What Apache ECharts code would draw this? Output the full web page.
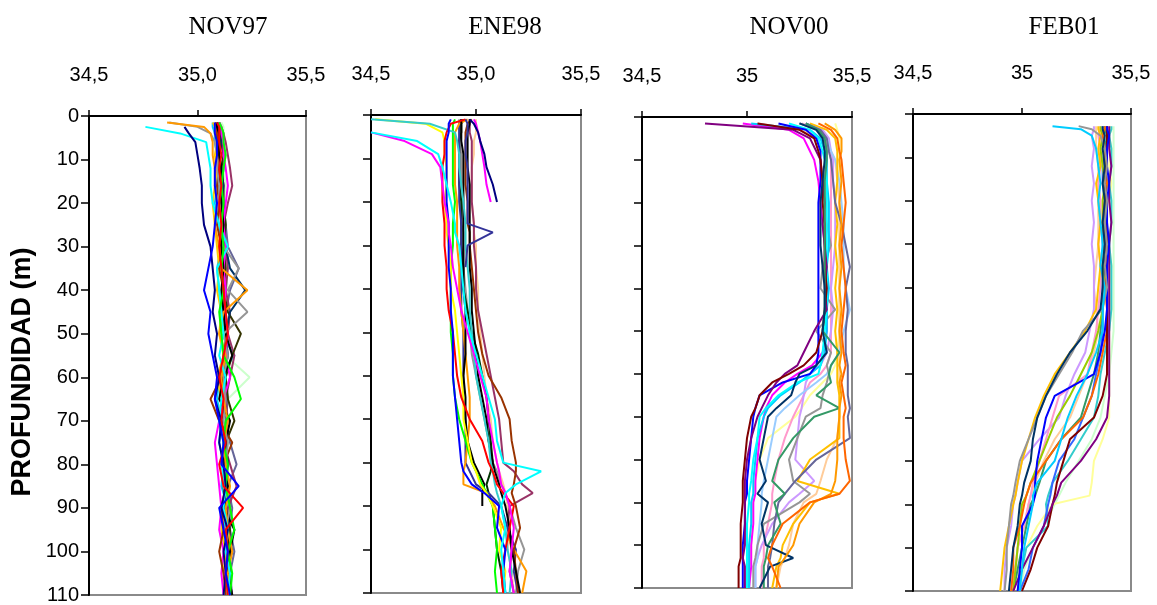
<!DOCTYPE html>
<html><head><meta charset="utf-8">
<script src="https://cdn.jsdelivr.net/npm/echarts@6/dist/echarts.min.js"></script>
<style>html,body{margin:0;padding:0;background:#fff}#c{width:1157px;height:605px}</style>
</head><body><div id="c"></div>
<script>
// ---------- tick labels ----------
const xTickValues = [34.5, 35.0, 35.5];
const xTickLabelsComma = ['34,5', '35,0', '35,5'];
const xTickLabelsShort = ['34,5', '35', '35,5'];
const depthTickValues = [0, 10, 20, 30, 40, 50, 60, 70, 80, 90, 100, 110];
const panelTitles = ['NOV97', 'ENE98', 'NOV00', 'FEB01'];
const depthAxisName = 'PROFUNDIDAD (m)';

// ---------- NOV97 (depth m / salinity) ----------
const depthNOV97 = [1.5, 2.5, 4, 6, 9, 12, 16, 20, 25, 30, 35, 40, 45, 50, 55, 60, 65, 70, 75, 80, 85, 90, 95, 100, 105, 110];
const nov97_navy = [null, 34.94, 34.96, 34.99, 35.00, 35.01, 35.02, 35.02, 35.03, 35.06, 35.07, 35.08, 35.07, 35.09, 35.08, 35.10, 35.08, 35.11, 35.10, 35.12, 35.13, 35.11, 35.14, 35.12, 35.13, 35.12];
const nov97_cyan = [null, 34.76, 34.92, 35.04, 35.05, 35.06, 35.06, 35.07, 35.10, 35.14, 35.09, 35.10, 35.11, 35.12, 35.10, 35.13, 35.11, 35.10, 35.12, 35.11, 35.13, 35.12, 35.14, 35.13, 35.15, 35.14];
const nov97_orange = [34.86, 35.03, 35.06, 35.07, 35.07, 35.08, 35.08, 35.09, 35.08, 35.10, 35.11, 35.23, 35.12, 35.10, 35.13, 35.11, 35.12, 35.14, 35.12, 35.13, 35.15, 35.13, 35.14, 35.16, 35.14, 35.15];
const nov97_gray = [34.87, 35.00, 35.06, 35.08, 35.09, 35.09, 35.10, 35.10, 35.11, 35.12, 35.19, 35.14, 35.23, 35.12, 35.14, 35.12, 35.13, 35.12, 35.14, 35.13, 35.12, 35.15, 35.13, 35.14, 35.13, 35.14];
const nov97_blue = [35.08, 35.08, 35.08, 35.09, 35.09, 35.08, 35.08, 35.09, 35.08, 35.07, 35.05, 35.03, 35.06, 35.05, 35.07, 35.09, 35.08, 35.10, 35.12, 35.11, 35.19, 35.10, 35.12, 35.14, 35.13, 35.15];
const nov97_red = [35.09, 35.10, 35.10, 35.10, 35.11, 35.10, 35.11, 35.10, 35.11, 35.10, 35.11, 35.12, 35.13, 35.14, 35.12, 35.10, 35.12, 35.11, 35.13, 35.10, 35.12, 35.21, 35.13, 35.14, 35.13, 35.14];
const nov97_green = [35.10, 35.11, 35.12, 35.12, 35.13, 35.12, 35.11, 35.12, 35.11, 35.12, 35.11, 35.12, 35.10, 35.11, 35.12, 35.17, 35.20, 35.13, 35.12, 35.14, 35.13, 35.15, 35.17, 35.14, 35.16, 35.15];
const nov97_black = [35.09, 35.09, 35.10, 35.10, 35.10, 35.11, 35.10, 35.11, 35.12, 35.11, 35.12, 35.11, 35.12, 35.13, 35.16, 35.12, 35.10, 35.15, 35.13, 35.12, 35.14, 35.12, 35.17, 35.15, 35.14, 35.16];
const nov97_brown = [35.08, 35.09, 35.09, 35.09, 35.10, 35.10, 35.09, 35.10, 35.09, 35.11, 35.10, 35.12, 35.11, 35.13, 35.12, 35.11, 35.06, 35.10, 35.16, 35.12, 35.13, 35.11, 35.12, 35.10, 35.12, 35.13];
const nov97_magenta = [35.10, 35.11, 35.11, 35.12, 35.12, 35.13, 35.14, 35.13, 35.12, 35.13, 35.12, 35.13, 35.12, 35.14, 35.13, 35.15, 35.12, 35.10, 35.08, 35.09, 35.10, 35.11, 35.10, 35.12, 35.11, 35.12];
const nov97_plum = [35.10, 35.11, 35.12, 35.13, 35.14, 35.15, 35.16, 35.14, 35.12, 35.13, 35.14, 35.13, 35.15, 35.14, 35.17, 35.15, 35.13, 35.14, 35.12, 35.15, 35.18, 35.14, 35.13, 35.15, 35.14, 35.16];
const nov97_darkteal = [35.09, 35.10, 35.10, 35.11, 35.10, 35.11, 35.12, 35.11, 35.12, 35.13, 35.15, 35.22, 35.15, 35.13, 35.14, 35.12, 35.13, 35.11, 35.13, 35.14, 35.13, 35.15, 35.14, 35.16, 35.13, 35.15];
const nov97_olive = [35.10, 35.10, 35.11, 35.11, 35.12, 35.11, 35.12, 35.12, 35.13, 35.12, 35.13, 35.12, 35.14, 35.20, 35.16, 35.13, 35.14, 35.17, 35.13, 35.14, 35.12, 35.13, 35.15, 35.14, 35.15, 35.14];
const nov97_lightgreen = [35.11, 35.12, 35.12, 35.12, 35.13, 35.12, 35.13, 35.12, 35.13, 35.12, 35.13, 35.14, 35.13, 35.14, 35.13, 35.24, 35.14, 35.13, 35.14, 35.13, 35.15, 35.14, 35.15, 35.14, 35.16, 35.15];
const nov97_gold = [35.07, 35.08, 35.08, 35.09, 35.08, 35.09, 35.08, 35.07, 35.08, 35.09, 35.10, 35.09, 35.11, 35.10, 35.12, 35.09, 35.11, 35.10, 35.12, 35.11, 35.13, 35.12, 35.11, 35.13, 35.12, 35.14];
const nov97_skyblue = [35.07, 35.07, 35.08, 35.08, 35.09, 35.08, 35.09, 35.08, 35.10, 35.11, 35.09, 35.10, 35.12, 35.11, 35.17, 35.10, 35.09, 35.11, 35.10, 35.12, 35.11, 35.14, 35.12, 35.13, 35.14, 35.13];
const nov97_slate = [35.10, 35.10, 35.11, 35.11, 35.12, 35.12, 35.11, 35.12, 35.13, 35.14, 35.19, 35.15, 35.13, 35.14, 35.12, 35.13, 35.14, 35.13, 35.15, 35.18, 35.14, 35.16, 35.15, 35.17, 35.15, 35.16];

// ---------- ENE98 ----------
const depthENE98 = [1, 2, 4, 6, 9, 12, 16, 20, 25, 27, 30, 35, 40, 45, 50, 55, 60, 65, 70, 75, 80, 82, 85, 87, 90, 95, 100, 105, 110];
const ene98_teal = [34.50, 34.78, 34.90, 34.91, 34.92, 34.92, 34.93, 34.94, 34.95, 34.95, 34.95, 34.96, 34.97, 34.97, 34.98, 34.99, 35.00, 35.02, 35.04, 35.06, 35.07, 35.08, 35.09, 35.10, 35.12, 35.14, 35.15, 35.17, 35.16];
const ene98_yellow = [34.52, 34.76, 34.84, 34.85, 34.85, 34.86, 34.86, 34.85, 34.86, 34.86, 34.87, 34.88, 34.88, 34.90, 34.91, 34.92, 34.93, 34.94, 34.94, 34.96, 34.98, 35.00, 35.02, 35.05, 35.08, 35.12, 35.11, 35.14, 35.13];
const ene98_cyan = [null, null, 34.50, 34.72, 34.82, 34.84, 34.86, 34.88, 34.90, 34.90, 34.92, 34.93, 34.94, 34.95, 34.97, 35.00, 35.03, 35.06, 35.09, 35.10, 35.13, 35.31, 35.19, 35.14, 35.12, 35.14, 35.12, 35.13, 35.14];
const ene98_magenta = [null, null, 34.50, 34.66, 34.79, 34.83, 34.84, 34.85, 34.87, 34.87, 34.88, 34.89, 34.91, 34.93, 34.96, 34.99, 35.02, 35.05, 35.06, 35.08, 35.10, 35.11, 35.12, 35.14, 35.16, 35.18, 35.17, 35.16, 35.18];
const ene98_magenta2 = [34.99, 35.00, 35.01, 35.02, 35.03, 35.04, 35.05, 35.07];
const ene98_navy = [34.97, 34.99, 35.01, 35.02, 35.04, 35.05, 35.08, 35.10];
const ene98_indigo = [34.95, 34.96, 34.96, 34.95, 34.95, 34.96, 34.96, 34.96, 34.96, 35.08, 34.96, 34.95];
const ene98_indigo2 = [34.93, 34.92, 34.92, 34.92, 34.92, 34.92, 34.92, 34.92, 34.93, 34.93, 34.93, 34.93, 34.93, 34.93, 34.94, 34.94, 34.94, 34.94, 34.95, 34.95, 34.95, 34.97, 35.00, 35.06, 35.12, 35.15, 35.19, 35.18, 35.20];
const ene98_red = [34.95, 34.88, 34.86, 34.85, 34.85, 34.84, 34.84, 34.84, 34.85, 34.85, 34.85, 34.86, 34.86, 34.87, 34.89, 34.90, 34.91, 34.93, 34.97, 35.03, 35.06, 35.08, 35.10, 35.13, 35.18, 35.16, 35.14, 35.12, 35.13];
const ene98_blue = [34.88, 34.87, 34.87, 34.86, 34.86, 34.86, 34.86, 34.86, 34.87, 34.87, 34.87, 34.87, 34.88, 34.88, 34.89, 34.89, 34.89, 34.90, 34.91, 34.92, 34.93, 34.94, 34.98, 35.04, 35.11, 35.10, 35.14, 35.13, 35.14];
const ene98_green = [34.90, 34.89, 34.89, 34.89, 34.89, 34.89, 34.89, 34.90, 34.89, 34.89, 34.89, 34.88, 34.88, 34.88, 34.88, 34.89, 34.89, 34.90, 34.92, 34.95, 34.98, 35.00, 35.03, 35.05, 35.08, 35.09, 35.10, 35.09, 35.10];
const ene98_black = [34.93, 34.93, 34.93, 34.93, 34.94, 34.94, 34.94, 34.94, 34.94, 34.94, 34.94, 34.94, 34.94, 34.95, 34.95, 34.95, 34.94, 34.95, 34.95, 34.96, 34.99, 35.01, 35.04, 35.03, 35.03];
const ene98_black2 = [34.97, 34.97, 34.96, 34.96, 34.96, 34.96, 34.97, 34.97, 34.97, 34.97, 34.97, 34.97, 34.98, 34.98, 34.99, 35.00, 35.01, 35.03, 35.05, 35.06, 35.08, 35.09, 35.11, 35.12, 35.14, 35.16, 35.17, 35.19, 35.21];
const ene98_brown = [34.98, 34.96, 34.95, 34.95, 34.95, 34.95, 34.95, 34.96, 34.96, 34.97, 34.97, 34.98, 34.99, 35.00, 35.01, 35.03, 35.06, 35.12, 35.16, 35.17, 35.19, 35.19, 35.18, 35.17, 35.19, 35.21, 35.18, 35.19, 35.20];
const ene98_orange = [34.96, 34.92, 34.90, 34.90, 34.90, 34.90, 34.90, 34.91, 34.91, 34.91, 34.91, 34.92, 34.92, 34.93, 34.94, 34.95, 34.96, 34.97, 34.97, 34.96, 34.95, 34.94, 34.94, 35.05, 35.09, 35.13, 35.18, 35.24, 35.22];
const ene98_darkgreen = [34.94, 34.93, 34.93, 34.92, 34.92, 34.92, 34.92, 34.93, 34.93, 34.93, 34.93, 34.94, 34.94, 34.96, 34.98, 35.01, 35.03, 35.05, 35.06, 35.07, 35.08, 35.07, 35.05, 35.06, 35.08, 35.09, 35.10, 35.12, 35.13];
const ene98_plum = [34.97, 34.97, 34.97, 34.98, 34.98, 34.98, 34.98, 34.98, 34.99, 34.99, 34.99, 35.00, 35.00, 35.01, 35.03, 35.05, 35.07, 35.09, 35.11, 35.12, 35.13, 35.18, 35.22, 35.27, 35.16, 35.15, 35.17, 35.16, 35.18];
const ene98_peach = [35.00, 35.00, 35.00, 34.99, 34.99, 34.98, 34.98, 34.98, 34.99, 34.99, 35.00, 35.00, 35.01, 35.01, 35.02, 35.03, 35.04, 35.05, 35.07, 35.08, 35.10, 35.11, 35.13, 35.14, 35.15, 35.16, 35.15, 35.17, 35.18];
const ene98_gray = [34.92, 34.92, 34.92, 34.92, 34.93, 34.93, 34.93, 34.93, 34.93, 34.94, 34.94, 34.94, 34.95, 34.96, 34.97, 34.98, 35.00, 35.02, 35.04, 35.06, 35.08, 35.10, 35.12, 35.14, 35.16, 35.19, 35.23, 35.20, 35.19];

// ---------- NOV00 ----------
const depthNOV00 = [1.5, 3, 5, 8, 10, 15, 20, 25, 30, 35, 40, 45, 50, 55, 58, 60, 62, 65, 68, 70, 75, 80, 85, 88, 90, 95, 100, 103, 105, 110];
const nov00_purple = [34.80, 35.22, 35.30, 35.33, 35.35, 35.36, 35.37, 35.36, 35.37, 35.38, 35.37, 35.38, 35.32, 35.27, 35.24, 35.18, 35.14, 35.10, 35.07, 35.05, 35.02, 35.00, 34.99, 34.99, 34.99, 34.99, 34.99, 34.98, 34.99, 34.99];
const nov00_maroon = [35.05, 35.25, 35.32, 35.34, 35.35, 35.36, 35.36, 35.37, 35.37, 35.37, 35.38, 35.37, 35.36, 35.33, 35.27, 35.20, 35.12, 35.06, 35.04, 35.02, 35.00, 34.99, 34.98, 34.98, 34.98, 34.97, 34.97, 34.97, 34.96, 34.96];
const nov00_magenta = [34.98, 35.20, 35.27, 35.30, 35.32, 35.34, 35.35, 35.36, 35.37, 35.37, 35.38, 35.38, 35.38, 35.36, 35.31, 35.24, 35.18, 35.12, 35.09, 35.08, 35.06, 35.05, 35.04, 35.04, 35.03, 35.03, 35.02, 35.02, 35.02, 35.01];
const nov00_blue = [35.15, 35.28, 35.33, 35.35, 35.35, 35.35, 35.34, 35.34, 35.34, 35.34, 35.34, 35.34, 35.34, 35.34, 35.33, 35.30, 35.17, 35.06, 35.04, 35.03, 35.02, 35.01, 35.00, 35.00, 34.99, 34.99, 34.98, 34.98, 34.98, 34.98];
const nov00_cyan = [35.20, 35.30, 35.34, 35.36, 35.37, 35.38, 35.38, 35.38, 35.38, 35.38, 35.38, 35.38, 35.37, 35.36, 35.35, 35.34, 35.24, 35.15, 35.09, 35.06, 35.05, 35.03, 35.02, 35.01, 35.01, 35.00, 35.00, 35.00, 35.00, 35.00];
const nov00_skyblue = [35.02, 35.30, 35.35, 35.37, 35.38, 35.38, 35.39, 35.39, 35.39, 35.38, 35.39, 35.38, 35.38, 35.37, 35.35, 35.30, 35.25, 35.16, 35.10, 35.08, 35.05, 35.04, 35.03, 35.03, 35.02, 35.02, 35.01, 35.01, 35.01, 35.01];
const nov00_paleblue = [35.25, 35.33, 35.38, 35.40, 35.42, 35.44, 35.45, 35.46, 35.46, 35.46, 35.47, 35.49, 35.46, 35.44, 35.40, 35.38, 35.33, 35.25, 35.18, 35.14, 35.12, 35.10, 35.08, 35.07, 35.07, 35.06, 35.05, 35.05, 35.04, 35.04];
const nov00_navy = [35.25, 35.33, 35.36, 35.37, 35.37, 35.36, 35.35, 35.35, 35.35, 35.36, 35.37, 35.37, 35.36, 35.38, 35.33, 35.25, 35.23, 35.21, 35.14, 35.10, 35.08, 35.06, 35.09, 35.05, 35.10, 35.07, 35.09, 35.22, 35.11, 35.06];
const nov00_seagreen = [35.28, 35.34, 35.37, 35.38, 35.38, 35.37, 35.37, 35.37, 35.37, 35.37, 35.37, 35.37, 35.36, 35.44, 35.40, 35.39, 35.40, 35.33, 35.44, 35.32, 35.22, 35.15, 35.12, 35.18, 35.13, 35.16, 35.10, 35.09, 35.08, 35.08];
const nov00_orange = [35.34, 35.40, 35.43, 35.44, 35.45, 35.46, 35.47, 35.46, 35.45, 35.46, 35.47, 35.46, 35.45, 35.46, 35.47, 35.46, 35.45, 35.46, 35.47, 35.46, 35.46, 35.47, 35.49, 35.44, 35.30, 35.17, 35.12, 35.10, 35.12, 35.16];
const nov00_orange2 = [35.37, 35.42, 35.45, 35.45, 35.44, 35.45, 35.44, 35.45, 35.44, 35.45, 35.44, 35.45, 35.44, 35.45, 35.44, 35.45, 35.44, 35.45, 35.44, 35.44, 35.43, 35.43, 35.42, 35.40, 35.32, 35.25, 35.22, 35.18, 35.15, 35.14];
const nov00_gold = [35.30, 35.38, 35.42, 35.43, 35.43, 35.43, 35.42, 35.43, 35.42, 35.43, 35.42, 35.43, 35.42, 35.43, 35.43, 35.43, 35.43, 35.44, 35.44, 35.44, 35.44, 35.30, 35.24, 35.44, 35.30, 35.22, 35.17, 35.16, 35.14, 35.12];
const nov00_gray = [35.25, 35.34, 35.37, 35.38, 35.38, 35.37, 35.37, 35.38, 35.40, 35.36, 35.35, 35.42, 35.33, 35.40, 35.38, 35.39, 35.38, 35.36, 35.35, 35.28, 35.24, 35.20, 35.22, 35.30, 35.25, 35.08, 35.05, 35.04, 35.03, 35.03];
const nov00_slate = [35.28, 35.35, 35.38, 35.39, 35.40, 35.41, 35.42, 35.45, 35.47, 35.49, 35.47, 35.48, 35.47, 35.47, 35.48, 35.48, 35.48, 35.48, 35.49, 35.48, 35.49, 35.33, 35.23, 35.18, 35.15, 35.13, 35.12, 35.11, 35.10, 35.10];
const nov00_peach = [35.05, 35.25, 35.36, 35.40, 35.42, 35.43, 35.44, 35.44, 35.44, 35.44, 35.44, 35.44, 35.44, 35.44, 35.44, 35.44, 35.44, 35.44, 35.44, 35.44, 35.43, 35.38, 35.35, 35.33, 35.27, 35.22, 35.20, 35.18, 35.16, 35.14];
const nov00_pink = [35.26, 35.35, 35.38, 35.39, 35.40, 35.40, 35.40, 35.40, 35.40, 35.40, 35.40, 35.40, 35.40, 35.40, 35.38, 35.35, 35.30, 35.27, 35.24, 35.22, 35.18, 35.15, 35.13, 35.12, 35.12, 35.10, 35.08, 35.08, 35.07, 35.07];
const nov00_lavender = [35.28, 35.36, 35.39, 35.40, 35.41, 35.41, 35.42, 35.42, 35.42, 35.41, 35.40, 35.41, 35.40, 35.38, 35.35, 35.30, 35.28, 35.27, 35.26, 35.25, 35.24, 35.23, 35.32, 35.25, 35.20, 35.12, 35.07, 35.05, 35.04, 35.04];
const nov00_lightyellow = [35.42, 35.43, 35.44, 35.44, 35.44, 35.44, 35.44, 35.44, 35.44, 35.44, 35.44, 35.44, 35.44, 35.43, 35.42, 35.40, 35.36, 35.30, 35.26, 35.23, 35.10, 35.06, 35.04, 35.03, 35.03, 35.02, 35.02, 35.02, 35.01, 35.01];

// ---------- FEB01 ----------
const depthFEB01 = [2.8, 3.5, 5, 8, 12, 16, 20, 25, 30, 35, 40, 45, 50, 55, 60, 65, 70, 75, 80, 85, 88, 90, 95, 100, 105, 110];
const feb01_cyan = [35.14, 35.27, 35.32, 35.34, 35.35, 35.36, 35.35, 35.36, 35.37, 35.36, 35.38, 35.37, 35.37, 35.34, 35.30, 35.25, 35.21, 35.18, 35.15, 35.07, 35.05, 35.05, 35.03, 35.01, 35.00, 34.99];
const feb01_gray = [35.26, 35.32, 35.36, 35.38, 35.39, 35.38, 35.39, 35.38, 35.39, 35.38, 35.39, 35.37, 35.28, 35.23, 35.17, 35.11, 35.07, 35.03, 34.99, 34.97, 34.96, 34.95, 34.94, 34.93, 34.93, 34.92];
const feb01_navy = [35.37, 35.37, 35.38, 35.37, 35.38, 35.37, 35.38, 35.37, 35.38, 35.37, 35.37, 35.36, 35.30, 35.22, 35.16, 35.11, 35.07, 35.05, 35.04, 35.01, 35.00, 34.99, 34.98, 34.96, 34.95, 34.94];
const feb01_gold = [35.35, 35.35, 35.36, 35.35, 35.36, 35.34, 35.35, 35.36, 35.35, 35.36, 35.35, 35.34, 35.29, 35.22, 35.15, 35.10, 35.06, 35.03, 35.00, 34.98, 34.97, 34.96, 34.94, 34.92, 34.91, 34.90];
const feb01_lime = [35.36, 35.36, 35.37, 35.36, 35.37, 35.38, 35.37, 35.37, 35.38, 35.37, 35.38, 35.37, 35.35, 35.32, 35.27, 35.22, 35.16, 35.12, 35.08, 35.04, 35.02, 35.00, 34.99, 34.98, 34.97, 34.96];
const feb01_blue = [35.39, 35.39, 35.40, 35.39, 35.39, 35.40, 35.39, 35.39, 35.40, 35.39, 35.39, 35.39, 35.38, 35.36, 35.33, 35.15, 35.11, 35.09, 35.07, 35.06, 35.06, 35.05, 35.00, 35.00, 34.99, 34.98];
const feb01_purple = [35.40, 35.40, 35.40, 35.40, 35.41, 35.40, 35.40, 35.41, 35.40, 35.40, 35.40, 35.40, 35.40, 35.40, 35.40, 35.40, 35.39, 35.34, 35.27, 35.18, 35.16, 35.14, 35.10, 35.05, 35.00, 34.96];
const feb01_maroon = [35.39, 35.39, 35.39, 35.39, 35.39, 35.38, 35.39, 35.39, 35.39, 35.38, 35.39, 35.39, 35.39, 35.39, 35.39, 35.37, 35.33, 35.22, 35.19, 35.16, 35.15, 35.14, 35.12, 35.07, 35.04, 35.00];
const feb01_lightyellow = [35.40, 35.41, 35.40, 35.41, 35.40, 35.41, 35.40, 35.41, 35.40, 35.41, 35.40, 35.41, 35.40, 35.40, 35.40, 35.40, 35.40, 35.37, 35.33, 35.32, 35.31, 35.14, 35.07, 35.02, 34.99, 34.96];
const feb01_orange = [35.38, 35.38, 35.37, 35.38, 35.38, 35.39, 35.38, 35.37, 35.38, 35.39, 35.38, 35.39, 35.39, 35.37, 35.35, 35.32, 35.28, 35.18, 35.11, 35.04, 35.02, 35.01, 34.99, 34.96, 34.96, 34.95];
const feb01_lavender = [35.33, 35.33, 35.32, 35.33, 35.32, 35.33, 35.32, 35.33, 35.32, 35.33, 35.33, 35.33, 35.31, 35.29, 35.24, 35.20, 35.17, 35.08, 35.00, 34.98, 34.97, 34.96, 34.95, 34.93, 34.92, 34.92];
const feb01_pink = [35.36, 35.36, 35.35, 35.36, 35.36, 35.35, 35.36, 35.36, 35.35, 35.36, 35.36, 35.35, 35.34, 35.32, 35.30, 35.17, 35.14, 35.11, 35.08, 35.05, 35.04, 35.03, 35.01, 34.98, 34.97, 34.96];
const feb01_teal = [35.41, 35.41, 35.40, 35.41, 35.41, 35.40, 35.41, 35.41, 35.40, 35.41, 35.41, 35.41, 35.40, 35.38, 35.36, 35.35, 35.33, 35.27, 35.21, 35.14, 35.12, 35.11, 35.12, 35.02, 35.00, 34.98];
const feb01_seagreen = [35.38, 35.38, 35.39, 35.38, 35.38, 35.39, 35.38, 35.38, 35.39, 35.38, 35.38, 35.37, 35.36, 35.35, 35.33, 35.30, 35.27, 35.18, 35.11, 35.08, 35.06, 35.04, 35.02, 35.00, 34.98, 34.96];
const feb01_royal = [35.37, 35.37, 35.37, 35.38, 35.37, 35.37, 35.38, 35.37, 35.37, 35.38, 35.37, 35.37, 35.37, 35.36, 35.34, 35.32, 35.28, 35.24, 35.17, 35.14, 35.13, 35.12, 35.10, 35.05, 35.03, 34.99];
const feb01_peach = [35.34, 35.34, 35.34, 35.34, 35.35, 35.35, 35.35, 35.35, 35.35, 35.34, 35.33, 35.34, 35.35, 35.33, 35.30, 35.26, 35.22, 35.15, 35.10, 35.06, 35.04, 35.03, 35.01, 34.98, 34.97, 34.95];
const feb01_lightgreen = [35.42, 35.42, 35.42, 35.42, 35.42, 35.42, 35.42, 35.42, 35.42, 35.42, 35.42, 35.42, 35.42, 35.41, 35.40, 35.38, 35.36, 35.32, 35.26, 35.20, 35.17, 35.15, 35.10, 35.05, 35.01, 34.99];

// ---------- assembly ----------
const panels = [
  { title: panelTitles[0], labels: xTickLabelsComma, depth: depthNOV97, profiles: [
    ['#CCFFCC', nov97_lightgreen], ['#00CCFF', nov97_skyblue], ['#FFCC00', nov97_gold], ['#666699', nov97_slate],
    ['#993366', nov97_plum], ['#333300', nov97_olive], ['#003366', nov97_darkteal], ['#FF00FF', nov97_magenta],
    ['#993300', nov97_brown], ['#000000', nov97_black], ['#969696', nov97_gray], ['#FF9900', nov97_orange],
    ['#00FFFF', nov97_cyan], ['#00FF00', nov97_green], ['#000080', nov97_navy], ['#FF0000', nov97_red], ['#0000FF', nov97_blue]] },
  { title: panelTitles[1], labels: xTickLabelsComma, depth: depthENE98, profiles: [
    ['#FFCC99', ene98_peach], ['#969696', ene98_gray], ['#993366', ene98_plum], ['#003300', ene98_darkgreen],
    ['#333399', ene98_indigo2], ['#FF9900', ene98_orange], ['#993300', ene98_brown], ['#000000', ene98_black2],
    ['#000000', ene98_black], ['#00FF00', ene98_green], ['#FFFF00', ene98_yellow], ['#33CCCC', ene98_teal],
    ['#FF0000', ene98_red], ['#0000FF', ene98_blue], ['#FF00FF', ene98_magenta2], ['#000080', ene98_navy],
    ['#333399', ene98_indigo], ['#FF00FF', ene98_magenta], ['#00FFFF', ene98_cyan]] },
  { title: panelTitles[2], labels: xTickLabelsShort, depth: depthNOV00, profiles: [
    ['#FFFF99', nov00_lightyellow], ['#FFCC99', nov00_peach], ['#FF99CC', nov00_pink], ['#CC99FF', nov00_lavender],
    ['#99CCFF', nov00_paleblue], ['#969696', nov00_gray], ['#FF00FF', nov00_magenta], ['#00CCFF', nov00_skyblue],
    ['#00FFFF', nov00_cyan], ['#0000FF', nov00_blue], ['#800080', nov00_purple], ['#800000', nov00_maroon],
    ['#FFC000', nov00_gold], ['#666699', nov00_slate], ['#339966', nov00_seagreen], ['#003366', nov00_navy],
    ['#FF9900', nov00_orange2], ['#FF6600', nov00_orange]] },
  { title: panelTitles[3], labels: xTickLabelsShort, depth: depthFEB01, profiles: [
    ['#CCFFCC', feb01_lightgreen], ['#FFFF99', feb01_lightyellow], ['#FFCC99', feb01_peach], ['#CC99FF', feb01_lavender],
    ['#FF99CC', feb01_pink], ['#33CCCC', feb01_teal], ['#339966', feb01_seagreen], ['#3366FF', feb01_royal],
    ['#99CC00', feb01_lime], ['#FF6600', feb01_orange], ['#800000', feb01_maroon], ['#800080', feb01_purple],
    ['#0000FF', feb01_blue], ['#FFC000', feb01_gold], ['#969696', feb01_gray], ['#00CCFF', feb01_cyan], ['#003366', feb01_navy]] }
];

const layout = [
  { left: 89, top: 116, width: 217, height: 482, titleX: 223 },
  { left: 371, top: 115, width: 210, height: 478, titleX: 500 },
  { left: 642, top: 117, width: 210, height: 471, titleX: 784 },
  { left: 913, top: 114, width: 218, height: 477, titleX: 1059 }
];

const FONT = '"Liberation Sans", Arial, sans-serif';
const grid = [], xAxis = [], yAxis = [], title = [], series = [];
panels.forEach((p, i) => {
  const L = layout[i];
  grid.push({ left: L.left, top: L.top, width: L.width, height: L.height, show: true,
    borderColor: '#8a8a8a', borderWidth: 2, backgroundColor: 'transparent', containLabel: false });
  title.push({ text: p.title, left: L.titleX, top: 10, textAlign: 'center',
    textStyle: { fontFamily: '"Liberation Serif", "Times New Roman", serif', fontSize: 25, fontWeight: 'normal', color: '#000' } });
  xAxis.push({ gridIndex: i, type: 'value', position: 'top', min: xTickValues[0], max: xTickValues[2], interval: 0.5,
    axisLine: { show: true, lineStyle: { color: '#000', width: 2 } },
    axisTick: { show: true, inside: false, length: 6, lineStyle: { color: '#000', width: 1.5 } },
    axisLabel: { show: true, margin: 31, fontSize: 20, fontFamily: FONT, color: '#000',
      formatter: (v) => { const k = xTickValues.findIndex(t => Math.abs(t - v) < 1e-6); return k >= 0 ? p.labels[k] : ''; } },
    splitLine: { show: false } });
  yAxis.push({ gridIndex: i, type: 'value', inverse: true, min: 0, max: 110, interval: 10,
    axisLine: { show: true, lineStyle: { color: '#000', width: 2 } },
    axisTick: { show: true, inside: false, length: 8, lineStyle: { color: '#000', width: 1.5 } },
    axisLabel: { show: i === 0, margin: 10, fontSize: 20, fontFamily: FONT, color: '#000',
      formatter: (v) => depthTickValues.indexOf(v) >= 0 ? String(v) : '' },
    splitLine: { show: false } });
  p.profiles.forEach(([color, sal]) => {
    const pts = [];
    sal.forEach((s, k) => { if (s !== null && s !== undefined) pts.push([s, p.depth[k]]); });
    series.push({ type: 'line', xAxisIndex: i, yAxisIndex: i, data: pts, showSymbol: false, symbol: 'none',
      silent: true, animation: false, clip: true,
      lineStyle: { color: color, width: 2 }, itemStyle: { color: color } });
  });
});

const chart = echarts.init(document.getElementById('c'), null, { renderer: 'canvas' });
chart.setOption({
  animation: false,
  backgroundColor: '#ffffff',
  title, grid, xAxis, yAxis, series,
  graphic: [{
    type: 'text', x: 23, y: 372, rotation: Math.PI / 2,
    style: { text: depthAxisName, fontSize: 27, fontWeight: 'bold', fontFamily: FONT, fill: '#000',
      align: 'center', verticalAlign: 'middle', textAlign: 'center', textVerticalAlign: 'middle' }
  }]
});
</script>
</body></html>
